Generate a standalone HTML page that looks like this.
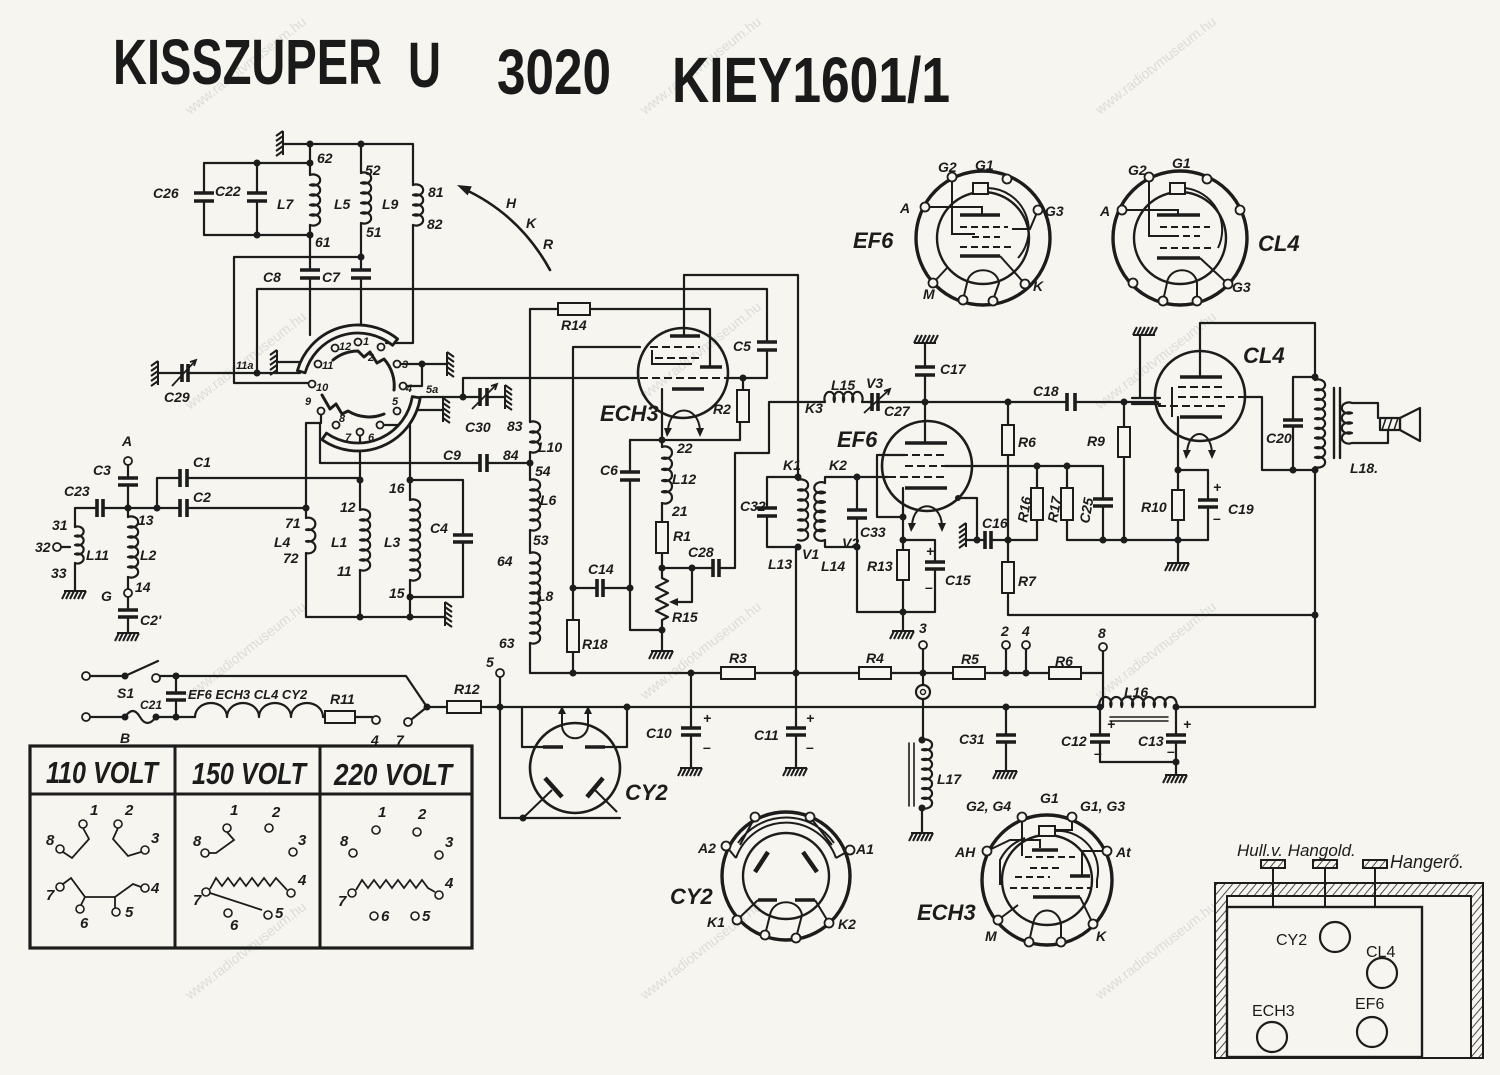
<!DOCTYPE html>
<html><head><meta charset="utf-8">
<style>
html,body{margin:0;padding:0;background:#f6f5f0;}
svg{display:block}
.t{font-family:"Liberation Sans",sans-serif;font-style:italic;font-weight:bold;font-size:14px;fill:#1c1c1c}
.s{font-size:11px}
.b{font-size:22px}
.wm{font-family:"Liberation Sans",sans-serif;font-size:14px;fill:#dcdcd8}
</style></head><body>
<svg width="1500" height="1075" viewBox="0 0 1500 1075" xmlns="http://www.w3.org/2000/svg">
<defs>
<g id="gd" fill="none" stroke="#1c1c1c" stroke-width="2"><path d="M-11,0H11M-9,0l-4,8M-5,0l-4,8M-1,0l-4,8M3,0l-4,8M7,0l-4,8M11,0l-4,8"/></g>
<g id="gu" fill="none" stroke="#1c1c1c" stroke-width="2"><path d="M-11,0H11M-11,0l4,-8M-7,0l4,-8M-3,0l4,-8M1,0l4,-8M5,0l4,-8M9,0l4,-8"/></g>
<g id="gl" fill="none" stroke="#1c1c1c" stroke-width="2"><path d="M0,-12V12M0,-12l-7,5M0,-7l-7,5M0,-2l-7,5M0,3l-7,5M0,8l-7,5"/></g>
<g id="gr" fill="none" stroke="#1c1c1c" stroke-width="2"><path d="M0,-12V12M0,-12l7,5M0,-7l7,5M0,-2l7,5M0,3l7,5M0,8l7,5"/></g>
<pattern id="hatch" width="6" height="6" patternUnits="userSpaceOnUse" patternTransform="rotate(40)"><line x1="0" y1="0" x2="0" y2="6" stroke="#222" stroke-width="1.6"/></pattern>
</defs>
<rect width="1500" height="1075" fill="#f6f5f0"/>

<!-- watermarks -->
<g class="wm">
<text transform="translate(190,115) rotate(-38)">www.radiotvmuseum.hu</text>
<text transform="translate(645,115) rotate(-38)">www.radiotvmuseum.hu</text>
<text transform="translate(1100,115) rotate(-38)">www.radiotvmuseum.hu</text>
<text transform="translate(190,410) rotate(-38)">www.radiotvmuseum.hu</text>
<text transform="translate(645,400) rotate(-38)">www.radiotvmuseum.hu</text>
<text transform="translate(1100,410) rotate(-38)">www.radiotvmuseum.hu</text>
<text transform="translate(190,700) rotate(-38)">www.radiotvmuseum.hu</text>
<text transform="translate(645,700) rotate(-38)">www.radiotvmuseum.hu</text>
<text transform="translate(1100,700) rotate(-38)">www.radiotvmuseum.hu</text>
<text transform="translate(190,1000) rotate(-38)">www.radiotvmuseum.hu</text>
<text transform="translate(645,1000) rotate(-38)">www.radiotvmuseum.hu</text>
<text transform="translate(1100,1000) rotate(-38)">www.radiotvmuseum.hu</text>
</g>

<!-- title -->
<g font-family="'Liberation Sans Narrow','Liberation Sans',sans-serif" font-weight="bold" font-size="64" fill="#1a1a1a">
<text x="113" y="84" textLength="269" lengthAdjust="spacingAndGlyphs">KISSZUPER</text>
<text x="408" y="87" textLength="33" lengthAdjust="spacingAndGlyphs">U</text>
<text x="497" y="94" textLength="114" lengthAdjust="spacingAndGlyphs">3020</text>
<text x="672" y="102" textLength="278" lengthAdjust="spacingAndGlyphs">KIEY1601/1</text>
</g>

<!-- wires -->
<g fill="none" stroke="#1c1c1c" stroke-width="2.2" stroke-linejoin="round" stroke-linecap="round">
<path d="M283,144H413V185M413,225V343H386"/>
<path d="M204,163H310M204,163V193M204,201V235H310M257,163V193M257,201V235"/>
<path d="M310,144V175M310,225V270M310,278V335"/>
<path d="M361,144V173M361,223V270M361,278V332"/>
<path d="M234,257H361M234,257V383H308"/>
<path d="M257,289V373M257,289H767V342M767,350V378H728"/>
<path d="M158,373H182M188,373H300M277,362H300"/>
<path d="M401,364H447M407,386H422V364"/>
<path d="M420,397H480M487,397H505M463,397V378H638"/>
<path d="M418,410H443"/>
<path d="M321,415V423H306V518M306,553V617H445"/>
<path d="M320,423V463H480M487,463H530"/>
<path d="M360,436V510M360,570V617"/>
<path d="M384,425H410V500M410,580V617M410,480H463V535M463,542V597H410"/>
<path d="M157,508V478H180M187,478H360V480M128,508H180M187,508H306"/>
<path d="M128,465V478M128,485V517M128,577V589M128,597V610M128,617V632"/>
<path d="M75,527V508H97M103,508H128M75,563V590M61,547H70"/>
<path d="M310,175a7,5.6 0 1 1 0,10a7,5.6 0 1 1 0,10a7,5.6 0 1 1 0,10a7,5.6 0 1 1 0,10a7,5.6 0 1 1 0,10"/>
<path d="M361,173a7,5.6 0 1 1 0,10a7,5.6 0 1 1 0,10a7,5.6 0 1 1 0,10a7,5.6 0 1 1 0,10a7,5.6 0 1 1 0,10"/>
<path d="M413,185a7,5.6 0 1 1 0,10a7,5.6 0 1 1 0,10a7,5.6 0 1 1 0,10a7,5.6 0 1 1 0,10"/>
<path d="M306,518a7,6.2 0 1 1 0,11.67a7,6.2 0 1 1 0,11.67a7,6.2 0 1 1 0,11.67"/>
<path d="M360,510a7,5.6 0 1 1 0,10a7,5.6 0 1 1 0,10a7,5.6 0 1 1 0,10a7,5.6 0 1 1 0,10a7,5.6 0 1 1 0,10a7,5.6 0 1 1 0,10"/>
<path d="M410,500a7,5.6 0 1 1 0,10a7,5.6 0 1 1 0,10a7,5.6 0 1 1 0,10a7,5.6 0 1 1 0,10a7,5.6 0 1 1 0,10a7,5.6 0 1 1 0,10a7,5.6 0 1 1 0,10a7,5.6 0 1 1 0,10"/>
<path d="M75,527a6,5 0 1 1 0,9a6,5 0 1 1 0,9a6,5 0 1 1 0,9a6,5 0 1 1 0,9"/>
<path d="M128,517a7,5.6 0 1 1 0,10a7,5.6 0 1 1 0,10a7,5.6 0 1 1 0,10a7,5.6 0 1 1 0,10a7,5.6 0 1 1 0,10a7,5.6 0 1 1 0,10"/>
<path d="M530,422a7,5.6 0 1 1 0,10a7,5.6 0 1 1 0,10a7,5.6 0 1 1 0,10"/>
<path d="M530,480a7,5.6 0 1 1 0,10a7,5.6 0 1 1 0,10a7,5.6 0 1 1 0,10a7,5.6 0 1 1 0,10a7,5.6 0 1 1 0,10"/>
<path d="M530,553a7,5.6 0 1 1 0,10a7,5.6 0 1 1 0,10a7,5.6 0 1 1 0,10a7,5.6 0 1 1 0,10a7,5.6 0 1 1 0,10a7,5.6 0 1 1 0,10a7,5.6 0 1 1 0,10a7,5.6 0 1 1 0,10a7,5.6 0 1 1 0,10"/>
<path d="M464,189Q520,215 550,270" stroke-width="2.6"/>
<path d="M297.4,370.6A63,63 0 0 1 397.6,339L392.6,345.3A55,55 0 0 0 305.1,372.8Z" fill="#f6f5f0" stroke-width="2.8"/>
<path d="M420.2,397.9A63,63 0 0 1 321.9,439.6L326.5,433.1A55,55 0 0 0 412.3,396.6Z" fill="#f6f5f0" stroke-width="2.8"/>
<path d="M333,360A40,40 0 0 1 358,351L364,357L370,352L377,363L384,359A40,40 0 0 1 394,390" stroke-width="3"/>
<path d="M322,395L330,409L336,404L342,414L348,411A40,40 0 0 0 384,414" stroke-width="3"/>

<!-- mains -->
<path d="M90,676H125L158,661M160,676H406L427,707M90,717H125Q133,705 140,717T156,717H195"/>
<path d="M176,676V693M176,700V717"/>
<path d="M195,717a16,14 0 0 1 32,0a16,14 0 0 1 32,0a16,14 0 0 1 32,0a16,14 0 0 1 32,0H325M355,717H372"/>
<path d="M412,719L427,707H447M481,707H500"/>
<path d="M500,677V818H620M500,707H1100"/>
<path d="M522,707V747H543M627,707V747H605"/>
<!-- bus -->
<path d="M530,643V673H721M755,673H859M891,673H953M985,673H1049M1081,673H1103V707"/>
<path d="M573,652V673M923,649V685M923,699V740M922,808V832M1006,649V673M1026,649V673M1103,651V673"/>
<path d="M691,673V728M691,735V767M796,547V728M796,735V767"/>
<path d="M1006,707V735M1006,742V770M1100,707V735M1100,742V762H1176M1176,707V735M1176,742V774"/>
<path d="M1176,707H1315V470M1008,593V615H1315"/>
<path d="M922,740a7,5.4 0 1 1 0,9.71a7,5.4 0 1 1 0,9.71a7,5.4 0 1 1 0,9.71a7,5.4 0 1 1 0,9.71a7,5.4 0 1 1 0,9.71a7,5.4 0 1 1 0,9.71a7,5.4 0 1 1 0,9.71"/>
<path d="M909,743V806M914,743V806" stroke-width="1.6"/>
<path d="M1100,707a6,7 0 1 1 10.857,0a6,7 0 1 1 10.857,0a6,7 0 1 1 10.857,0a6,7 0 1 1 10.857,0a6,7 0 1 1 10.857,0a6,7 0 1 1 10.857,0a6,7 0 1 1 10.857,0"/>
<path d="M1110,717H1168M1110,721H1168" stroke-width="1.5"/>
<circle cx="923" cy="692" r="7"/>
<circle cx="923" cy="692" r="2.5" stroke-width="1.5"/>

<!-- ECH3 stage -->
<path d="M684,275V336M684,275H798V480"/>
<path d="M530,309H558M590,309H710V367M530,309V422M530,452V480M530,530V553"/>
<path d="M573,347H640M573,347V620"/>
<path d="M662,389V447M662,503V522M662,553V578l6,3l-12,6l12,6l-12,6l12,6l-12,6l12,6l-6,3V650"/>
<path d="M630,440H740V422M743,390V378"/>
<path d="M630,440V472M630,480V630H662"/>
<path d="M573,588H597M603,588H630"/>
<path d="M662,568H713M719,568H735V453H769V402H825M862,402H872M878,402H1067M1075,402H1158"/>
<path d="M692,568V602H672"/>
<path d="M662,447a7,6.2 0 1 1 0,11.2a7,6.2 0 1 1 0,11.2a7,6.2 0 1 1 0,11.2a7,6.2 0 1 1 0,11.2a7,6.2 0 1 1 0,11.2"/>
<path d="M825,402a5.2,7 0 1 1 9.25,0a5.2,7 0 1 1 9.25,0a5.2,7 0 1 1 9.25,0a5.2,7 0 1 1 9.25,0"/>
<!-- IF / EF6 -->
<path d="M798,480a7,5.6 0 1 1 0,10a7,5.6 0 1 1 0,10a7,5.6 0 1 1 0,10a7,5.6 0 1 1 0,10a7,5.6 0 1 1 0,10a7,5.6 0 1 1 0,10"/>
<path d="M825,483a7,5.6 0 1 0 0,9.5a7,5.6 0 1 0 0,9.5a7,5.6 0 1 0 0,9.5a7,5.6 0 1 0 0,9.5a7,5.6 0 1 0 0,9.5a7,5.6 0 1 0 0,9.5"/>
<path d="M825,483V477H888M825,540V547H857"/>
<path d="M798,477H767V508M767,516V547H798"/>
<path d="M857,477V510M857,518V547V612H935V569M935,562V540H903"/>
<path d="M925,402V375M925,367V343M925,402V443"/>
<path d="M877,455V517H903M877,455H905M903,488V550M903,580V630"/>
<path d="M958,498H977V540H985M991,540H1008M966,540H977"/>
<path d="M945,466H1103V499M1103,506V540"/>
<path d="M1037,466V488M1037,520V540H1008M1067,466V488M1067,520V540H1178"/>
<path d="M1008,402V425M1008,455V562"/>
<path d="M1124,402V427M1124,457V540"/>
<path d="M1140,335V398M1132,398H1160M1132,404H1160" />
<!-- CL4 -->
<path d="M1200,377V323H1315V380M1245,397H1262V470H1315M1315,377H1293V420M1293,426V470"/>
<path d="M1178,417V490M1178,520V562M1178,470H1208V500M1208,507V540H1178"/>
<path d="M1315,380a7,5.4 0 1 1 0,9.67a7,5.4 0 1 1 0,9.67a7,5.4 0 1 1 0,9.67a7,5.4 0 1 1 0,9.67a7,5.4 0 1 1 0,9.67a7,5.4 0 1 1 0,9.67a7,5.4 0 1 1 0,9.67a7,5.4 0 1 1 0,9.67a7,5.4 0 1 1 0,9.67"/>
<path d="M1334,388V458M1340,388V458" stroke-width="2.4"/>
<path d="M1352,403a7,5.6 0 1 0 0,10a7,5.6 0 1 0 0,10a7,5.6 0 1 0 0,10a7,5.6 0 1 0 0,10"/>
<path d="M1352,403H1378V418M1352,443H1388V430"/>
<rect x="1380" y="418" width="20" height="12" fill="#f6f5f0"/>
<path d="M1386,418l-4,12M1392,418l-4,12M1398,418l-4,12" stroke-width="1.5"/>
<path d="M1400,418L1420,408V441L1400,430Z"/>
</g>

<!-- tubes -->
<g fill="none" stroke="#1c1c1c" stroke-width="2.6">
<circle cx="683" cy="373" r="45"/>
<circle cx="927" cy="466" r="45"/>
<circle cx="1200" cy="396" r="45"/>
<circle cx="575" cy="768" r="45"/>
</g>
<g fill="none" stroke="#1c1c1c" stroke-width="2">
<path d="M670,336H700M700,367H722M672,389H704" stroke-width="3.6"/>
<path d="M650,347H700M655,358H700M640,378H728" stroke-dasharray="8 4"/>
<path d="M652,350V364H692"/>
<path d="M668,430C670,404 698,404 700,430"/>
<path d="M905,443H947M905,488H947" stroke-width="3.6"/>
<path d="M900,455H947M905,466H945M888,477H947" stroke-dasharray="8 4"/>
<path d="M912,525C914,500 940,500 942,525"/>
<path d="M1180,377H1222M1180,417H1222" stroke-width="3.6"/>
<path d="M1178,387H1225M1178,397H1245M1158,406H1225" stroke-dasharray="8 4"/>
<path d="M1172,387V417"/>
<path d="M1187,452C1189,428 1210,428 1212,452"/>
<path d="M543,747H563M585,747H605" stroke-width="3.6"/>
<path d="M545,778L562,797M603,778L587,797" stroke-width="4.5"/>
<path d="M552,790L523,818M595,790L617,812"/>
<path d="M562,727V712M588,727V712M562,727C565,742 585,742 588,727"/>
</g>
<g fill="#1c1c1c">
<path d="M664,428L672,428L667,437Z"/><path d="M696,428L704,428L700,437Z"/>
<path d="M908,523L916,523L911,532Z"/><path d="M938,523L946,523L942,532Z"/>
<path d="M1183,450L1191,450L1186,459Z"/><path d="M1208,450L1216,450L1212,459Z"/>
<path d="M558,714L566,714L562,706Z"/><path d="M584,714L592,714L588,706Z"/>
<path d="M669,602L678,598L678,606Z"/>
<path d="M457,185L471.8,186.4L467.6,195.4Z"/>
</g>

<!-- capacitors -->
<g fill="none" stroke="#1c1c1c" stroke-width="3.6">
<path d="M194,193H214M194,201H214M247,193H267M247,201H267M300,270H320M300,278H320M351,270H371M351,278H371"/>
<path d="M118,478H138M118,485H138M118,610H138M118,617H138M453,535H473M453,542H473"/>
<path d="M620,472H640M620,480H640M757,342H777M757,350H777M915,367H935M915,375H935"/>
<path d="M757,508H777M757,516H777M847,510H867M847,518H867M925,562H945M925,569H945"/>
<path d="M1093,499H1113M1093,506H1113M1198,500H1218M1198,507H1218M1283,420H1303M1283,426H1303"/>
<path d="M681,728H701M681,735H701M786,728H806M786,735H806M996,735H1016M996,742H1016"/>
<path d="M1090,735H1110M1090,742H1110M1166,735H1186M1166,742H1186M166,693H186M166,700H186"/>
<path d="M182,364V382M188,364V382M480,388V406M487,388V406M480,454V472M487,454V472"/>
<path d="M180,469V487M187,469V487M180,499V517M187,499V517M97,499V517M103,499V517"/>
<path d="M597,579V597M603,579V597M713,559V577M719,559V577M872,393V411M878,393V411"/>
<path d="M1067,393V411M1075,393V411M985,531V549M991,531V549"/>
</g>
<g fill="none" stroke="#1c1c1c" stroke-width="1.8">
<path d="M172,386L196,360M190,362L196,360L194,366"/>
<path d="M472,409L497,384M491,386L497,384L495,390"/>
<path d="M864,413L890,389M884,391L890,389L888,395"/>
</g>

<!-- resistors -->
<g fill="#f6f5f0" stroke="#1c1c1c" stroke-width="2">
<rect x="567" y="620" width="12" height="32"/>
<rect x="656" y="522" width="12" height="31"/>
<rect x="737" y="390" width="12" height="32"/>
<rect x="897" y="550" width="12" height="30"/>
<rect x="1002" y="425" width="12" height="30"/>
<rect x="1002" y="562" width="12" height="31"/>
<rect x="1031" y="488" width="12" height="32"/>
<rect x="1061" y="488" width="12" height="32"/>
<rect x="1118" y="427" width="12" height="30"/>
<rect x="1172" y="490" width="12" height="30"/>
<rect x="558" y="303" width="32" height="12"/>
<rect x="721" y="667" width="34" height="12"/>
<rect x="859" y="667" width="32" height="12"/>
<rect x="953" y="667" width="32" height="12"/>
<rect x="1049" y="667" width="32" height="12"/>
<rect x="325" y="711" width="30" height="12"/>
<rect x="447" y="701" width="34" height="12"/>
</g>

<!-- grounds -->
<use href="#gl" x="283" y="143"/>
<use href="#gl" x="158" y="373"/>
<use href="#gl" x="277" y="362"/>
<use href="#gr" x="447" y="364"/>
<use href="#gr" x="443" y="410"/>
<use href="#gr" x="505" y="397"/>
<use href="#gr" x="445" y="614"/>
<use href="#gl" x="966" y="535"/>
<use href="#gd" x="75" y="591"/>
<use href="#gd" x="128" y="633"/>
<use href="#gd" x="662" y="651"/>
<use href="#gd" x="903" y="631"/>
<use href="#gd" x="1178" y="563"/>
<use href="#gd" x="691" y="768"/>
<use href="#gd" x="796" y="768"/>
<use href="#gd" x="922" y="833"/>
<use href="#gd" x="1006" y="771"/>
<use href="#gd" x="1176" y="775"/>
<use href="#gu" x="925" y="343"/>
<use href="#gu" x="1144" y="335"/>

<!-- dots -->
<g fill="#1c1c1c">
<circle cx="310" cy="144" r="3.5"/><circle cx="361" cy="144" r="3.5"/><circle cx="257" cy="163" r="3.5"/><circle cx="310" cy="163" r="3.5"/>
<circle cx="257" cy="235" r="3.5"/><circle cx="310" cy="235" r="3.5"/><circle cx="361" cy="257" r="3.5"/><circle cx="257" cy="373" r="3.5"/>
<circle cx="422" cy="364" r="3.5"/><circle cx="463" cy="397" r="3.5"/><circle cx="360" cy="480" r="3.5"/><circle cx="410" cy="480" r="3.5"/>
<circle cx="410" cy="597" r="3.5"/><circle cx="360" cy="617" r="3.5"/><circle cx="410" cy="617" r="3.5"/><circle cx="306" cy="508" r="3.5"/>
<circle cx="157" cy="508" r="3.5"/><circle cx="128" cy="508" r="3.5"/><circle cx="530" cy="463" r="3.5"/><circle cx="573" cy="588" r="3.5"/>
<circle cx="630" cy="588" r="3.5"/><circle cx="662" cy="440" r="3.5"/><circle cx="743" cy="378" r="3.5"/><circle cx="662" cy="568" r="3.5"/>
<circle cx="692" cy="568" r="3.5"/><circle cx="662" cy="630" r="3.5"/><circle cx="798" cy="477" r="3.5"/><circle cx="798" cy="547" r="3.5"/>
<circle cx="857" cy="477" r="3.5"/><circle cx="857" cy="547" r="3.5"/><circle cx="925" cy="402" r="3.5"/><circle cx="903" cy="517" r="3.5"/>
<circle cx="903" cy="540" r="3.5"/><circle cx="903" cy="612" r="3.5"/><circle cx="977" cy="540" r="3.5"/><circle cx="1008" cy="402" r="3.5"/>
<circle cx="1008" cy="540" r="3.5"/><circle cx="1037" cy="466" r="3.5"/><circle cx="1067" cy="466" r="3.5"/><circle cx="1124" cy="402" r="3.5"/>
<circle cx="1103" cy="540" r="3.5"/><circle cx="1124" cy="540" r="3.5"/><circle cx="1178" cy="540" r="3.5"/><circle cx="1178" cy="470" r="3.5"/>
<circle cx="1315" cy="377" r="3.5"/><circle cx="1293" cy="470" r="3.5"/><circle cx="1315" cy="470" r="3.5"/><circle cx="1315" cy="615" r="3.5"/>
<circle cx="573" cy="673" r="3.5"/><circle cx="691" cy="673" r="3.5"/><circle cx="796" cy="673" r="3.5"/><circle cx="923" cy="673" r="3.5"/>
<circle cx="1006" cy="673" r="3.5"/><circle cx="1026" cy="673" r="3.5"/><circle cx="500" cy="707" r="3.5"/><circle cx="627" cy="707" r="3.5"/>
<circle cx="1006" cy="707" r="3.5"/><circle cx="1100" cy="707" r="3.5"/><circle cx="1176" cy="707" r="3.5"/><circle cx="1176" cy="762" r="3.5"/>
<circle cx="922" cy="740" r="3.5"/><circle cx="922" cy="808" r="3.5"/><circle cx="125" cy="676" r="3.5"/><circle cx="176" cy="676" r="3.5"/>
<circle cx="125" cy="717" r="3.5"/><circle cx="156" cy="717" r="3.5"/><circle cx="176" cy="717" r="3.5"/><circle cx="427" cy="707" r="3.5"/>
<circle cx="523" cy="818" r="3.5"/><circle cx="958" cy="498" r="3"/>
</g>

<!-- terminals -->
<g fill="#f6f5f0" stroke="#1c1c1c" stroke-width="1.8">
<circle cx="128" cy="461" r="4"/><circle cx="57" cy="547" r="4"/><circle cx="128" cy="593" r="4"/>
<circle cx="335" cy="348" r="3.5"/><circle cx="358" cy="342" r="3.5"/><circle cx="381" cy="347" r="3.5"/><circle cx="318" cy="364" r="3.5"/>
<circle cx="397" cy="364" r="3.5"/><circle cx="312" cy="384" r="3.5"/><circle cx="403" cy="386" r="3.5"/><circle cx="321" cy="411" r="3.5"/>
<circle cx="397" cy="411" r="3.5"/><circle cx="336" cy="425" r="3.5"/><circle cx="360" cy="432" r="3.5"/><circle cx="380" cy="425" r="3.5"/>
<circle cx="86" cy="676" r="4"/><circle cx="156" cy="678" r="4"/><circle cx="86" cy="717" r="4"/><circle cx="376" cy="720" r="4"/>
<circle cx="408" cy="722" r="4"/><circle cx="500" cy="673" r="4"/><circle cx="923" cy="645" r="4"/><circle cx="1006" cy="645" r="4"/>
<circle cx="1026" cy="645" r="4"/><circle cx="1103" cy="647" r="4"/>
</g>

<!-- tube base diagrams -->
<g fill="none" stroke="#1c1c1c" stroke-width="2">
<circle cx="983" cy="238" r="67" stroke-width="3.4"/>
<circle cx="983" cy="238" r="46" stroke-width="2.4"/>
<rect x="973" y="183" width="15" height="11" fill="#f6f5f0"/>
<path d="M988,188A42,42 0 0 1 1018,258"/>
<path d="M925,207H982V214M952,177V234H975M1038,210L1030,229H1012M947,268L933,283M1000,256L1025,284"/>
<path d="M960,215H1000M960,256H1000" stroke-width="3.4"/>
<path d="M960,227H1008M972,237H1000M960,247H1015" stroke-dasharray="7 4"/>
<path d="M963,300L967,283C969,266 997,266 999,283L993,300"/>
<circle cx="1180" cy="238" r="67" stroke-width="3.4"/>
<circle cx="1180" cy="238" r="46" stroke-width="2.4"/>
<rect x="1170" y="183" width="15" height="11" fill="#f6f5f0"/>
<path d="M1185,188A42,42 0 0 1 1218,248"/>
<path d="M1122,210H1178V214M1149,177V236H1175M1200,258L1228,284"/>
<path d="M1157,215H1200M1157,258H1200" stroke-width="3.4"/>
<path d="M1160,227H1210M1172,236H1200M1160,248H1215" stroke-dasharray="7 4"/>
<path d="M1163,301L1167,283C1169,266 1195,266 1197,283L1197,301"/>
<circle cx="786" cy="876" r="64" stroke-width="3.4"/>
<circle cx="786" cy="876" r="43" stroke-width="2.4"/>
<path d="M736,858A53,53 0 0 1 836,858M738,843A58,58 0 0 1 834,843M726,846L736,858M850,850L836,858M755,817L740,845M810,817L832,845"/>
<path d="M768,852L755,872M803,852L817,872" stroke-width="4.5"/>
<path d="M758,900H777M795,900H815" stroke-width="3.4"/>
<path d="M758,900L737,920M815,900L829,923M765,935L770,915C773,898 799,898 802,915L796,938"/>
<circle cx="1047" cy="880" r="65" stroke-width="3.4"/>
<circle cx="1047" cy="880" r="45" stroke-width="2.4"/>
<rect x="1039" y="826" width="16" height="10" fill="#f6f5f0"/>
<path d="M1022,817V856M1072,817V830H1055M987,851L1010,840H1040V848M1107,851H1082V875M1055,831A40,40 0 0 1 1097,880V888M1000,885V860A45,45 0 0 1 1025,838"/>
<path d="M1032,850H1058M1070,876H1090M1033,897H1080" stroke-width="3.4"/>
<path d="M1025,857H1075M1030,868H1060M1015,877H1050M1010,888H1092" stroke-dasharray="7 4"/>
<path d="M1029,942L1033,924C1036,906 1058,906 1061,924L1061,942M1018,905L998,920M1080,897L1093,924"/>
</g>
<g fill="#f6f5f0" stroke="#1c1c1c" stroke-width="1.8">
<circle cx="952" cy="177" r="4.5"/><circle cx="1007" cy="179" r="4.5"/><circle cx="925" cy="207" r="4.5"/><circle cx="1038" cy="210" r="4.5"/>
<circle cx="933" cy="283" r="4.5"/><circle cx="963" cy="300" r="4.5"/><circle cx="993" cy="301" r="4.5"/><circle cx="1025" cy="284" r="4.5"/>
<circle cx="1149" cy="177" r="4.5"/><circle cx="1207" cy="179" r="4.5"/><circle cx="1122" cy="210" r="4.5"/><circle cx="1240" cy="210" r="4.5"/>
<circle cx="1133" cy="283" r="4.5"/><circle cx="1163" cy="301" r="4.5"/><circle cx="1197" cy="301" r="4.5"/><circle cx="1228" cy="284" r="4.5"/>
<circle cx="726" cy="846" r="4.5"/><circle cx="755" cy="817" r="4.5"/><circle cx="810" cy="817" r="4.5"/><circle cx="850" cy="850" r="4.5"/>
<circle cx="737" cy="920" r="4.5"/><circle cx="765" cy="935" r="4.5"/><circle cx="796" cy="938" r="4.5"/><circle cx="829" cy="923" r="4.5"/>
<circle cx="1022" cy="817" r="4.5"/><circle cx="1072" cy="817" r="4.5"/><circle cx="987" cy="851" r="4.5"/><circle cx="1107" cy="851" r="4.5"/>
<circle cx="998" cy="920" r="4.5"/><circle cx="1029" cy="942" r="4.5"/><circle cx="1061" cy="942" r="4.5"/><circle cx="1093" cy="924" r="4.5"/>
</g>

<!-- table -->
<g fill="none" stroke="#1c1c1c">
<rect x="30" y="746" width="442" height="202" stroke-width="3.2"/>
<path d="M30,794H472M175,746V948M320,746V948" stroke-width="3"/>
<g stroke-width="1.8">
<path d="M83,828L89,839L72,858L63,852M118,828L113,839L128,856L141,852M63,884L71,878L85,897L81,905M85,897H115V908M115,897L133,884L141,887"/>
<path d="M227,832L234,840L216,853L209,853M210,889L216,878L222,886L228,878L234,886L240,878L246,886L252,878L258,886L264,878L270,886L276,878L287,890M210,893L262,910"/>
<path d="M356,890L362,880L368,888L374,880L380,888L386,880L392,888L398,880L404,888L410,880L416,888L422,880L428,888L435,892"/>
</g>
</g>
<g fill="#f6f5f0" stroke="#1c1c1c" stroke-width="1.6">
<circle cx="83" cy="824" r="4"/><circle cx="118" cy="824" r="4"/><circle cx="60" cy="849" r="4"/><circle cx="145" cy="850" r="4"/>
<circle cx="60" cy="887" r="4"/><circle cx="80" cy="909" r="4"/><circle cx="116" cy="912" r="4"/><circle cx="145" cy="888" r="4"/>
<circle cx="227" cy="828" r="4"/><circle cx="269" cy="828" r="4"/><circle cx="205" cy="853" r="4"/><circle cx="293" cy="852" r="4"/>
<circle cx="206" cy="892" r="4"/><circle cx="291" cy="893" r="4"/><circle cx="228" cy="913" r="4"/><circle cx="268" cy="915" r="4"/>
<circle cx="376" cy="830" r="4"/><circle cx="417" cy="832" r="4"/><circle cx="353" cy="853" r="4"/><circle cx="439" cy="855" r="4"/>
<circle cx="352" cy="893" r="4"/><circle cx="439" cy="895" r="4"/><circle cx="374" cy="916" r="4"/><circle cx="415" cy="916" r="4"/>
</g>
<g class="t" style="font-size:31px">
<text x="46" y="783" textLength="112" lengthAdjust="spacingAndGlyphs">110 VOLT</text>
<text x="192" y="784" textLength="114" lengthAdjust="spacingAndGlyphs">150 VOLT</text>
<text x="334" y="785" textLength="118" lengthAdjust="spacingAndGlyphs">220 VOLT</text>
</g>
<g class="t" style="font-size:15px">
<text x="90" y="815">1</text><text x="125" y="815">2</text><text x="46" y="845">8</text><text x="151" y="843">3</text>
<text x="46" y="900">7</text><text x="80" y="928">6</text><text x="125" y="917">5</text><text x="151" y="893">4</text>
<text x="230" y="815">1</text><text x="272" y="817">2</text><text x="193" y="846">8</text><text x="298" y="845">3</text>
<text x="298" y="885">4</text><text x="193" y="905">7</text><text x="275" y="918">5</text><text x="230" y="930">6</text>
<text x="378" y="817">1</text><text x="418" y="819">2</text><text x="340" y="846">8</text><text x="445" y="847">3</text>
<text x="445" y="888">4</text><text x="338" y="906">7</text><text x="381" y="921">6</text><text x="422" y="921">5</text>
</g>

<!-- chassis -->
<g stroke="#1c1c1c" stroke-width="2">
<path d="M1215,1058V883H1483V1058H1471V896H1227V1058Z" fill="url(#hatch)"/>
<path d="M1215,1058H1483" fill="none"/>
<rect x="1227" y="907" width="195" height="150" fill="none" stroke-width="2.4"/>
<rect x="1261" y="860" width="24" height="8" fill="url(#hatch)"/>
<rect x="1313" y="860" width="24" height="8" fill="url(#hatch)"/>
<rect x="1363" y="860" width="24" height="8" fill="url(#hatch)"/>
<path d="M1273,868V907M1325,868V907M1375,868V907" fill="none"/>
<g fill="none" stroke-width="2.2">
<circle cx="1335" cy="937" r="15"/><circle cx="1382" cy="973" r="15"/><circle cx="1272" cy="1037" r="15"/><circle cx="1372" cy="1032" r="15"/>
</g>
</g>
<g font-family="'Liberation Sans Narrow','Liberation Sans',sans-serif" font-size="16" fill="#1c1c1c">
<text x="1276" y="945">CY2</text><text x="1366" y="957">CL4</text><text x="1252" y="1016">ECH3</text><text x="1355" y="1009">EF6</text>
</g>
<g class="t" style="font-weight:normal">
<text x="1237" y="856" style="font-size:17px">Hull.v. Hangold.</text>
<text x="1390" y="868" style="font-size:18px">Hangerő.</text>
</g>

<!-- labels -->
<g class="t">
<text x="153" y="198">C26</text><text x="215" y="196">C22</text><text x="277" y="209">L7</text><text x="317" y="163">62</text>
<text x="315" y="247">61</text><text x="365" y="175">52</text><text x="334" y="209">L5</text><text x="382" y="209">L9</text>
<text x="366" y="237">51</text><text x="428" y="197">81</text><text x="427" y="229">82</text><text x="263" y="282">C8</text><text x="322" y="282">C7</text>
<text x="506" y="208">H</text><text x="526" y="228">K</text><text x="543" y="249">R</text>
<text x="164" y="402">C29</text><text x="465" y="432">C30</text>
<text x="507" y="431">83</text><text x="538" y="452">L10</text><text x="503" y="460">84</text><text x="535" y="476">54</text>
<text x="540" y="505">L6</text><text x="533" y="545">53</text><text x="497" y="566">64</text><text x="537" y="601">L8</text><text x="499" y="648">63</text>
<text x="443" y="460">C9</text><text x="122" y="446">A</text><text x="93" y="475">C3</text><text x="193" y="467">C1</text><text x="193" y="502">C2</text>
<text x="64" y="496">C23</text><text x="138" y="525">13</text><text x="52" y="530">31</text><text x="35" y="552">32</text><text x="51" y="578">33</text>
<text x="86" y="560">L11</text><text x="140" y="560">L2</text><text x="135" y="592">14</text><text x="101" y="601">G</text><text x="140" y="625">C2'</text>
<text x="285" y="528">71</text><text x="274" y="547">L4</text><text x="283" y="563">72</text><text x="340" y="512">12</text><text x="331" y="547">L1</text>
<text x="337" y="576">11</text><text x="389" y="493">16</text><text x="384" y="547">L3</text><text x="430" y="533">C4</text><text x="389" y="598">15</text>
<text x="117" y="698">S1</text><text x="140" y="709" style="font-size:12px">C21</text><text x="188" y="699" style="font-size:13px">EF6  ECH3 CL4 CY2</text>
<text x="330" y="704">R11</text><text x="120" y="743">B</text><text x="371" y="745">4</text><text x="396" y="745">7</text><text x="454" y="694">R12</text><text x="486" y="667">5</text>
<text x="561" y="330">R14</text><text x="733" y="351">C5</text><text x="713" y="414">R2</text><text x="600" y="475">C6</text>
<text x="677" y="453">22</text><text x="672" y="484">L12</text><text x="672" y="516">21</text><text x="673" y="541">R1</text>
<text x="588" y="574">C14</text><text x="688" y="557">C28</text><text x="672" y="622">R15</text><text x="582" y="649">R18</text>
<text x="740" y="511">C32</text><text x="768" y="569">L13</text><text x="783" y="470">K1</text><text x="802" y="559">V1</text>
<text x="829" y="470">K2</text><text x="842" y="548">V2</text><text x="821" y="571">L14</text><text x="860" y="537">C33</text>
<text x="831" y="390">L15</text><text x="866" y="388">V3</text><text x="805" y="413">K3</text><text x="884" y="416">C27</text>
<text x="940" y="374">C17</text><text x="867" y="571">R13</text><text x="945" y="585">C15</text><text x="926" y="556">+</text><text x="925" y="592">–</text>
<text x="982" y="528">C16</text><text x="1018" y="447">R6</text><text x="1087" y="446">R9</text><text x="1033" y="396">C18</text>
<text x="1141" y="512">R10</text><text x="1228" y="514">C19</text><text x="1213" y="492">+</text><text x="1213" y="523">–</text>
<text x="1266" y="443">C20</text><text x="1350" y="473">L18.</text><text x="1018" y="586">R7</text>
<text transform="translate(1027,523) rotate(-80)">R16</text>
<text transform="translate(1057,523) rotate(-80)">R17</text>
<text transform="translate(1089,524) rotate(-80)">C25</text>
<text x="729" y="663">R3</text><text x="866" y="663">R4</text><text x="961" y="664">R5</text><text x="1055" y="666">R6</text>
<text x="919" y="633">3</text><text x="1001" y="636">2</text><text x="1022" y="636">4</text><text x="1098" y="638">8</text>
<text x="646" y="738">C10</text><text x="703" y="723">+</text><text x="703" y="752">–</text>
<text x="754" y="740">C11</text><text x="806" y="723">+</text><text x="806" y="752">–</text>
<text x="937" y="784">L17</text><text x="959" y="744">C31</text><text x="1124" y="697">L16</text>
<text x="1061" y="746">C12</text><text x="1138" y="746">C13</text><text x="1107" y="729">+</text><text x="1094" y="758">–</text><text x="1183" y="729">+</text><text x="1167" y="756">–</text>
<text x="938" y="172">G2</text><text x="975" y="170">G1</text><text x="900" y="213">A</text><text x="1045" y="216">G3</text><text x="923" y="299">M</text><text x="1033" y="291">K</text>
<text x="1128" y="175">G2</text><text x="1172" y="168">G1</text><text x="1100" y="216">A</text><text x="1232" y="292">G3</text>
<text x="698" y="853">A2</text><text x="856" y="854">A1</text><text x="707" y="927">K1</text><text x="838" y="929">K2</text>
<text x="966" y="811">G2, G4</text><text x="1040" y="803">G1</text><text x="1080" y="811">G1, G3</text><text x="955" y="857">AH</text><text x="1116" y="857">At</text>
<text x="985" y="941">M</text><text x="1096" y="941">K</text>
</g>
<g class="t s">
<text x="339" y="350">12</text><text x="363" y="345">1</text><text x="368" y="361">2</text><text x="322" y="369">11</text>
<text x="402" y="368">3</text><text x="406" y="392">4</text><text x="316" y="391">10</text><text x="426" y="393">5a</text>
<text x="305" y="405">9</text><text x="392" y="405">5</text><text x="339" y="422">8</text><text x="345" y="441">7</text><text x="368" y="441">6</text>
<text x="236" y="369">11a</text>
</g>
<g class="t b">
<text x="600" y="421">ECH3</text><text x="837" y="447">EF6</text><text x="1243" y="363">CL4</text><text x="625" y="800">CY2</text>
<text x="853" y="248">EF6</text><text x="1258" y="251">CL4</text><text x="670" y="904">CY2</text><text x="917" y="920">ECH3</text>
</g>
</svg>
</body></html>
